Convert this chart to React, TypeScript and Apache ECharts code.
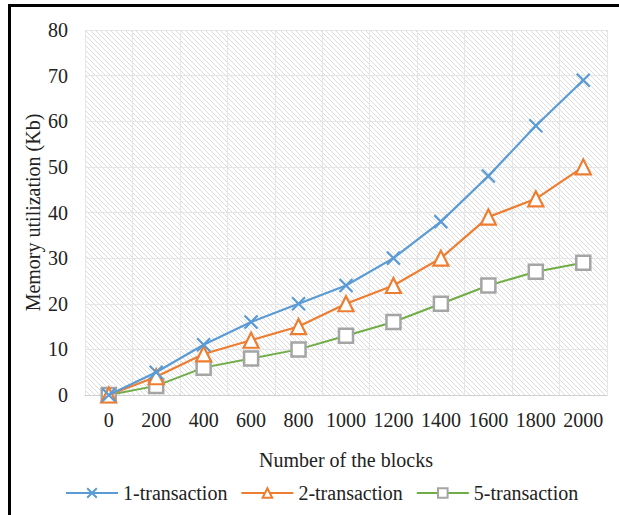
import React, { useEffect, useRef } from "react";
import * as echarts from "echarts";

const categories = ["0", "200", "400", "600", "800", "1000", "1200", "1400", "1600", "1800", "2000"];
const oneTx = [0, 5, 11, 16, 20, 24, 30, 38, 48, 59, 69];
const twoTx = [0, 4, 9, 12, 15, 20, 24, 30, 39, 43, 50];
const fiveTx = [0, 2, 6, 8, 10, 13, 16, 20, 24, 27, 29];
const seriesNames = ["1-transaction", "2-transaction", "5-transaction"];

function makeHatch(): string {
  const c = document.createElement("canvas");
  const s = 5;
  c.width = s;
  c.height = s;
  const ctx = c.getContext("2d")!;
  ctx.fillStyle = "#ffffff";
  ctx.fillRect(0, 0, s, s);
  ctx.strokeStyle = "#dcdcdc";
  ctx.lineWidth = 1;
  ctx.beginPath();
  ctx.moveTo(-1, -1);
  ctx.lineTo(s + 1, s + 1);
  ctx.moveTo(-1, s - 1);
  ctx.lineTo(1, s + 1);
  ctx.moveTo(s - 1, -1);
  ctx.lineTo(s + 1, 1);
  ctx.stroke();
  return c.toDataURL();
}

export default function App() {
  const ref = useRef<HTMLDivElement>(null);
  useEffect(() => {
    if (!ref.current) return;
    const chart = echarts.init(ref.current, undefined, { renderer: "svg" });
    const font = "Liberation Serif";
    const hatch = makeHatch();
    chart.setOption({
      animation: false,
      textStyle: { fontFamily: font },
      grid: {
        left: 85,
        right: 12,
        top: 30,
        bottom: 120,
        show: true,
        borderWidth: 0,
        backgroundColor: { image: hatch, repeat: "repeat" } as any,
      },
      legend: {
        bottom: 7,
        left: 60,
        itemWidth: 52,
        itemHeight: 12,
        itemGap: 13,
        textStyle: { fontFamily: font, fontSize: 20, color: "#222" },
        data: seriesNames,
      },
      xAxis: {
        type: "category",
        data: categories,
        boundaryGap: true,
        name: "Number of the blocks",
        nameLocation: "middle",
        nameGap: 55,
        nameTextStyle: { fontFamily: font, fontSize: 20, color: "#222" },
        axisLine: { show: true, lineStyle: { color: "#d0d0d0", width: 1 } },
        axisTick: { show: false },
        axisLabel: { fontFamily: font, fontSize: 20, color: "#222", margin: 15, interval: 0 },
        splitLine: { show: true, interval: 0, lineStyle: { color: "#e6e6e6", width: 1 } },
      },
      yAxis: {
        type: "value",
        min: 0,
        max: 80,
        interval: 10,
        name: "Memory utilization (Kb)",
        nameLocation: "middle",
        nameGap: 42,
        nameMoveOverlap: false,
        nameTextStyle: { fontFamily: font, fontSize: 20, color: "#222" },
        axisLine: { show: false },
        axisTick: { show: false },
        axisLabel: { fontFamily: font, fontSize: 20, color: "#222", margin: 17 },
        splitLine: { show: true, lineStyle: { color: "#e6e6e6", width: 1 } },
      } as any,
      series: [
        {
          name: seriesNames[0],
          type: "line",
          data: oneTx,
          symbol: "path://M0,0L10,10M10,0L0,10",
          symbolSize: 13,
          lineStyle: { color: "#5b9bd5", width: 2.2 },
          itemStyle: { color: "#5b9bd5", borderColor: "#5b9bd5", borderWidth: 2.2 },
          z: 4,
        },
        {
          name: seriesNames[1],
          type: "line",
          data: twoTx,
          symbol: "triangle",
          symbolSize: 15,
          lineStyle: { color: "#ed7d31", width: 2.2 },
          itemStyle: { color: "#ffffff", borderColor: "#ed7d31", borderWidth: 2.2 },
          z: 3,
        },
        {
          name: seriesNames[2],
          type: "line",
          data: fiveTx,
          symbol: "rect",
          symbolSize: 14,
          lineStyle: { color: "#70ad47", width: 2 },
          itemStyle: { color: "#ffffff", borderColor: "#a5a5a5", borderWidth: 2.5 },
          z: 2,
        },
      ],
    });
    return () => chart.dispose();
  }, []);
  return (
    <div style={{ position: "fixed", left: 0, top: 0, width: 619, height: 515, background: "#fff", overflow: "hidden" }}>
      <div ref={ref} style={{ position: "absolute", left: 0, top: 0, width: 619, height: 515 }} />
      <div
        style={{
          position: "absolute",
          left: 8,
          top: 4,
          width: 700,
          height: 700,
          borderTop: "3px solid #000",
          borderLeft: "3px solid #000",
          pointerEvents: "none",
        }}
      />
    </div>
  );
}
